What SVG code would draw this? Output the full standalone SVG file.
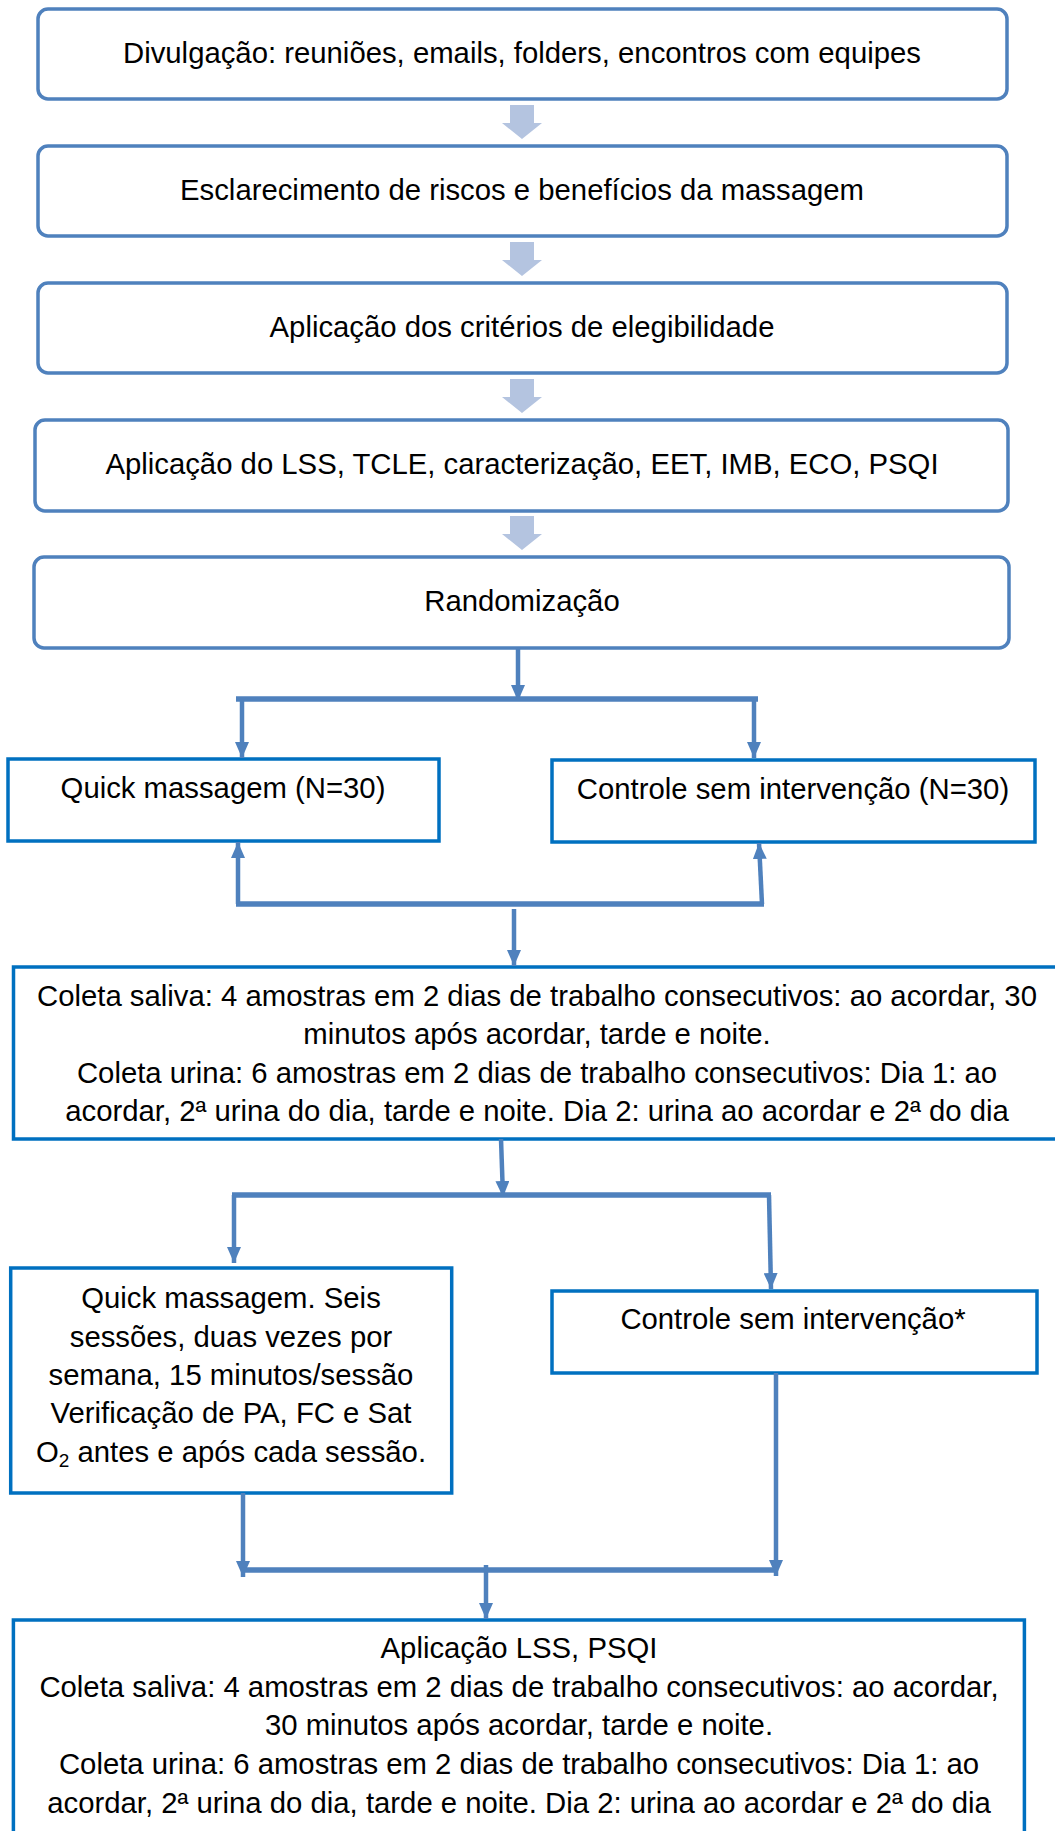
<svg xmlns="http://www.w3.org/2000/svg" width="1055" height="1831" viewBox="0 0 1055 1831">
<style>
.rb{fill:#fff;stroke:#4F81BD;stroke-width:3.5}
.sb{fill:#fff;stroke:#0070C0;stroke-width:3.5}
.t{font-family:"Liberation Sans",Arial,sans-serif;font-size:29.3px;fill:#000;text-anchor:middle}
.blk{fill:#B4C4E0}
.c{stroke:#4F81BD;stroke-width:4.5;fill:none}
.bar{stroke:#4F81BD;stroke-width:5.5;fill:none}
</style>
<defs>
<marker id="ah" markerUnits="userSpaceOnUse" viewBox="0 0 16 14" refX="16" refY="7" markerWidth="16" markerHeight="14" orient="auto">
<path d="M0,0 L16,7 L0,14 Z" fill="#4F81BD"/>
</marker>
</defs>
<rect width="1055" height="1831" fill="#fff"/>

<g id="n1"><rect class="rb" x="38" y="9" width="969" height="90" rx="10"/><text class="t" x="522" y="63">Divulgação: reuniões, emails, folders, encontros com equipes</text></g>
<g id="n2"><rect class="rb" x="38" y="146" width="969" height="90" rx="10"/><text class="t" x="522" y="200">Esclarecimento de riscos e benefícios da massagem</text></g>
<g id="n3"><rect class="rb" x="38" y="283" width="969" height="90" rx="10"/><text class="t" x="522" y="337">Aplicação dos critérios de elegibilidade</text></g>
<g id="n4"><rect class="rb" x="35" y="420" width="973" height="91" rx="10"/><text class="t" x="522" y="474">Aplicação do LSS, TCLE, caracterização, EET, IMB, ECO, PSQI</text></g>
<g id="n5"><rect class="rb" x="34" y="557" width="975" height="91" rx="10"/><text class="t" x="522" y="611">Randomização</text></g>
<g id="n6"><rect class="sb" x="8" y="759" width="431" height="82"/><text class="t" x="223" y="798">Quick massagem (N=30)</text></g>
<g id="n7"><rect class="sb" x="552" y="760" width="483" height="82"/><text class="t" x="793" y="799">Controle sem intervenção (N=30)</text></g>
<g id="n8"><rect class="sb" x="13.5" y="967" width="1050" height="172"/>
<text class="t" x="537" y="1006">Coleta saliva: 4 amostras em 2 dias de trabalho consecutivos: ao acordar, 30</text>
<text class="t" x="537" y="1044">minutos após acordar, tarde e noite.</text>
<text class="t" x="537" y="1083">Coleta urina: 6 amostras em 2 dias de trabalho consecutivos: Dia 1: ao</text>
<text class="t" x="537" y="1121">acordar, 2ª urina do dia, tarde e noite. Dia 2: urina ao acordar e 2ª do dia</text></g>
<g id="n9"><rect class="sb" x="10.7" y="1268" width="441" height="225"/>
<text class="t" x="231" y="1308">Quick massagem. Seis</text>
<text class="t" x="231" y="1347">sessões, duas vezes por</text>
<text class="t" x="231" y="1385">semana, 15 minutos/sessão</text>
<text class="t" x="231" y="1423">Verificação de PA, FC e Sat</text>
<text class="t" x="231" y="1462">O<tspan font-size="19" dy="5">2</tspan><tspan dy="-5"> antes e após cada sessão.</tspan></text></g>
<g id="n10"><rect class="sb" x="552" y="1291" width="485" height="82"/><text class="t" x="793" y="1329">Controle sem intervenção*</text></g>
<g id="n11"><rect class="sb" x="13.4" y="1620" width="1011" height="230"/>
<text class="t" x="519" y="1658">Aplicação LSS, PSQI</text>
<text class="t" x="519" y="1697">Coleta saliva: 4 amostras em 2 dias de trabalho consecutivos: ao acordar,</text>
<text class="t" x="519" y="1735">30 minutos após acordar, tarde e noite.</text>
<text class="t" x="519" y="1774">Coleta urina: 6 amostras em 2 dias de trabalho consecutivos: Dia 1: ao</text>
<text class="t" x="519" y="1813">acordar, 2ª urina do dia, tarde e noite. Dia 2: urina ao acordar e 2ª do dia</text></g>

<g id="connectors">
<polygon class="blk" points="510,105 534,105 534,123 542,123 522,139 502,123 510,123"/>
<polygon class="blk" points="510,242 534,242 534,260 542,260 522,276 502,260 510,260"/>
<polygon class="blk" points="510,379 534,379 534,397 542,397 522,413 502,397 510,397"/>
<polygon class="blk" points="510,516 534,516 534,534 542,534 522,550 502,534 510,534"/>

<line class="c" x1="518" y1="648" x2="518" y2="701" marker-end="url(#ah)"/>
<line class="bar" x1="236" y1="699" x2="758" y2="699"/>
<line class="c" x1="242" y1="699" x2="242" y2="758" marker-end="url(#ah)"/>
<line class="c" x1="754" y1="699" x2="754" y2="758" marker-end="url(#ah)"/>

<line class="bar" x1="236" y1="904" x2="764" y2="904"/>
<line class="c" x1="238" y1="904" x2="238" y2="842" marker-end="url(#ah)"/>
<line class="c" x1="762" y1="904" x2="759" y2="843" marker-end="url(#ah)"/>
<line class="c" x1="514" y1="909" x2="514" y2="966" marker-end="url(#ah)"/>

<line class="c" x1="501" y1="1139" x2="503" y2="1197" marker-end="url(#ah)"/>
<line class="bar" x1="232" y1="1195" x2="771" y2="1195"/>
<line class="c" x1="234" y1="1195" x2="234" y2="1263" marker-end="url(#ah)"/>
<line class="c" x1="769" y1="1195" x2="771" y2="1289" marker-end="url(#ah)"/>

<line class="c" x1="243" y1="1493" x2="243" y2="1577" marker-end="url(#ah)"/>
<line class="c" x1="776" y1="1373" x2="776" y2="1576" marker-end="url(#ah)"/>
<line class="bar" x1="243" y1="1570" x2="777" y2="1570"/>
<line class="c" x1="486" y1="1565" x2="486" y2="1619" marker-end="url(#ah)"/>
</g>
</svg>
